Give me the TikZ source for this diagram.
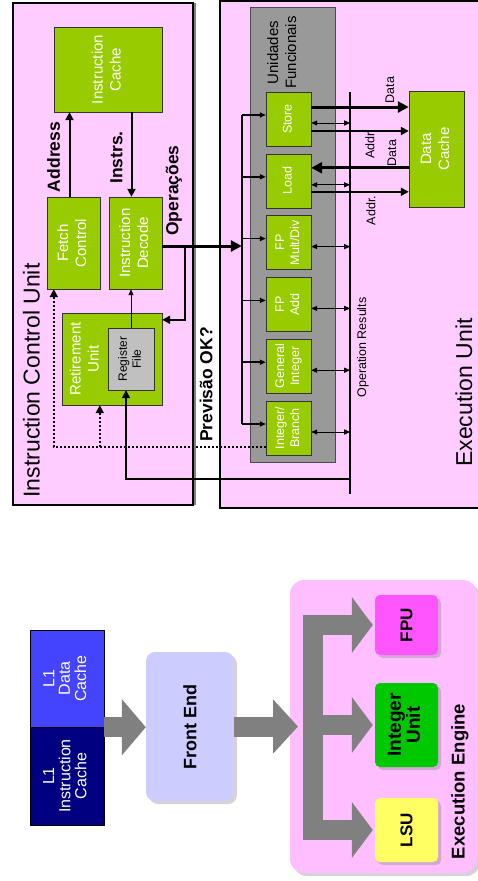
\documentclass[tikz,border=0pt]{standalone}
\usepackage{fontspec}
\setmainfont{Liberation Sans}
\usepackage{graphicx}
\usetikzlibrary{arrows.meta}
\usetikzlibrary{calc}
\usetikzlibrary{shadows}

\definecolor{unitpink}{RGB}{255,204,255}
\definecolor{boxgreen}{RGB}{153,204,0}
\definecolor{fugray}{RGB}{153,153,153}
\definecolor{rfgray}{RGB}{192,192,192}
\definecolor{lonedblue}{RGB}{68,68,255}
\definecolor{loneinavy}{RGB}{0,0,128}
\definecolor{felav}{RGB}{204,204,255}
\definecolor{eepink}{RGB}{255,190,255}
\definecolor{fpumag}{RGB}{255,85,255}
\definecolor{intgreen}{RGB}{0,200,0}
\definecolor{lsuyel}{RGB}{255,255,100}
\definecolor{arrgray}{RGB}{128,128,128}

\newcommand{\rlab}[1]{\rotatebox{90}{\begin{tabular}{@{}c@{}}#1\end{tabular}}}

\begin{document}
\begin{tikzpicture}
[x=1pt,y=-1pt,
 unit/.style={draw,line width=1.5pt,fill=unitpink,inner sep=0pt,
   drop shadow={shadow xshift=3pt,shadow yshift=0pt,fill=gray,opacity=1}},
 gbox/.style={draw=black!80,fill=boxgreen,inner sep=0pt,text=white,font=\fontsize{15}{18}\selectfont},
 fubox/.style={gbox,minimum width=45pt,minimum height=54pt,font=\fontsize{12.5}{15}\selectfont},
 wtext/.style={inner sep=0pt,text=white,font=\fontsize{15}{18}\selectfont},
 lbl/.style={rotate=90,inner sep=0pt,font=\bfseries\fontsize{17.5}{21}\selectfont},
 sm/.style={rotate=90,inner sep=0pt,font=\fontsize{12.5}{15}\selectfont},
 big/.style={rotate=90,inner sep=0pt,font=\fontsize{23}{27}\selectfont},
 arr/.style={line width=2pt,-{Triangle[length=8pt,width=8pt]}},
 thinarr/.style={line width=1pt,-{Triangle[length=6pt,width=5pt]}},
 fatarr/.style={line width=3pt,-{Triangle[length=11pt,width=11pt]}},
 dbl/.style={line width=1pt,{Triangle[length=6pt,width=5pt]}-{Triangle[length=6pt,width=5pt]}},
 dotarr/.style={line width=2pt,dash pattern=on 2pt off 2pt,-{Triangle[length=8pt,width=8pt]}},
 bus/.style={line width=1.5pt},
 lonebox/.style={draw,inner sep=0pt,minimum width=74pt,text=white,font=\fontsize{16}{15}\selectfont},
 softbox/.style={inner sep=0pt,drop shadow={shadow xshift=3pt,shadow yshift=-3pt,opacity=.35}},
 grayarr/.style={line width=20pt,draw=arrgray,-{Triangle[length=24pt,width=55pt]}},
 grayfork/.style={line width=20pt,draw=arrgray,line join=miter,shorten <=2pt,shorten >=2pt,
   {Triangle[length=21pt,width=55pt]}-{Triangle[length=21pt,width=55pt]}},
 bold/.style={inner sep=0pt,font=\bfseries\fontsize{17}{18}\selectfont}]

\useasboundingbox (0,0) rectangle (477,881);

% top: instruction control unit and execution unit
\node[unit,minimum width=180pt,minimum height=502pt] (icu) at (103,254) {};
\node[unit,minimum width=260pt,minimum height=507pt] (eu) at (350,254.5) {};
\node[draw=black!70,fill=fugray,minimum width=85pt,minimum height=455pt] (fu) at (292.5,234.5) {};

\node[big] (icutxt) at (31.5,380.5) {Instruction Control Unit};
\node[big] (eutxt) at (464,392.5) {Execution Unit};
\node[inner sep=0pt,font=\fontsize{15}{18}\selectfont] (futxt) at (283.5,52.5) {\rlab{Unidades\\Funcionais}};

\node[gbox,minimum width=108pt,minimum height=85pt] (ic) at (108,69.5) {\rlab{Instruction\\Cache}};
\node[gbox,minimum width=53pt,minimum height=92pt] (fetch) at (73.5,243) {\rlab{Fetch\\Control}};
\node[gbox,minimum width=53pt,minimum height=92pt] (dec) at (135.5,243) {\rlab{Instruction\\Decode}};
\node[gbox,minimum width=100pt,minimum height=92pt] (ret) at (112,359) {};
\node[wtext] (rettxt) at (86,359) {\rlab{Retirement\\Unit}};
\node[draw=black!80,fill=rfgray,minimum width=46pt,minimum height=62pt,inner sep=0pt,
  font=\fontsize{12}{14}\selectfont] (rf) at (131,359) {\rlab{Register\\File}};
\node[gbox,minimum width=55pt,minimum height=116pt] (dc) at (436.5,149) {\rlab{Data\\Cache}};

\foreach \fu/\txt [count=\i from 0] in {st/Store,ld/Load,fpm/{FP\\Mult/Div},fpa/{FP\\Add},gi/{General\\Integer},ib/{Integer/\\Branch}}
  \node[fubox] (\fu) at (288.5,{119+61.8*\i}) {\rlab{\txt}};

\node[lbl] (addrtxt) at (53.5,157) {Address};
\node[lbl] (instrtxt) at (116.5,157.5) {Instrs.};
\node[lbl] (opstxt) at (174,190.5) {Operações};
\node[lbl] (predtxt) at (206,384.5) {Previsão OK?};
\node[sm] (restxt) at (363,347.5) {Operation Results};
\node[sm] (data1) at (390,90) {Data};
\node[sm] (addr1) at (370,145.5) {Addr};
\node[sm] (data2) at (392,153) {Data};
\node[sm] (addr2) at (371,210.5) {Addr.};

\coordinate (disptop) at ($(st.west)+(-24,-4)$);
\coordinate (dispbot) at ($(ib.west)+(-24,-4)$);
\coordinate (restop) at ($(st.north east)+(39,0)$);
\coordinate (resbot) at ($(ib.south east)+(39,39)$);
\coordinate (opsend) at ($(dec.east)+(0,3)$);
\coordinate (tap) at ($(opsend)+(23,0)$);
\coordinate (retin) at ($(ret.north east)+(0,7)$);
\coordinate (addr) at ($(fetch.north)+(-4,0)$);
\coordinate (instr) at ($(dec.north)+(-4,0)$);
\coordinate (pred) at ($(ib.west)+(0,19)$);

\draw[bus] (disptop) -- (dispbot);
\draw[bus] (restop) -- (resbot);
\foreach \fu in {st,ld,fpm,fpa,gi,ib} {
  \draw[thinarr,line width=1.5pt] ($(disptop |- \fu.west)+(0,-4)$) -- ($(\fu.west)+(0,-4)$);
  \draw[dbl] ($(\fu.east)+(0,4)$) -- ($(\fu.east -| restop)+(0,4)$);
}

\draw[arr] (addr) -- (addr |- ic.south);
\draw[arr] (instr |- ic.south) -- (instr);
\draw[fatarr] (opsend) -- (opsend -| disptop);
\draw[arr] (tap) |- (retin);
\draw[thinarr] (rf.north) -- (rf.north |- dec.south);
\draw[arr,line width=1.5pt] ($(resbot)+(0,-15)$) -| ($(rf.south)+(-5,0)$);
\draw[dotarr] (pred) -| ($(fetch.south west)+(7,0)$);
\draw[dotarr] (pred -| {$(ret.south west)+(38,0)$}) -- ($(ret.south west)+(38,0)$);

\draw[fatarr] ($(st.east)+(0,-12)$) -- ($(st.east -| dc.west)+(0,-12)$);
\draw[arr] ($(st.east)+(0,12)$) -- ($(st.east -| dc.west)+(0,12)$);
\draw[fatarr] ($(ld.east -| dc.west)+(0,-13)$) -- ($(ld.east)+(0,-13)$);
\draw[arr] ($(ld.east)+(0,11)$) -- ($(ld.east -| dc.west)+(0,11)$);

% bottom: caches, front end, execution engine
\node[lonebox,fill=lonedblue,minimum height=97pt] (lone_d) at (67,678.5) {\rlab{L1\\Data\\Cache}};
\node[lonebox,fill=loneinavy,minimum height=98pt] (lone_i) at (67,776) {\rlab{L1\\Instruction\\Cache}};
\node[softbox,fill=felav,rounded corners=9pt,minimum width=88pt,minimum height=149pt,
  font=\bfseries\fontsize{18}{20}\selectfont] (fe) at (190,726.5) {\rotatebox{90}{Front End}};
\node[softbox,fill=eepink,rounded corners=14pt,minimum width=187pt,minimum height=293pt] (ee) at (383.5,726.5) {};
\node[lbl,font=\bfseries\fontsize{18.5}{20}\selectfont] (eetxt) at (460,781.5) {Execution Engine};

\node[softbox,fill=fpumag,rounded corners=5pt,minimum width=63pt,minimum height=60pt] (fpu) at (406.5,625) {};
\node[softbox,fill=intgreen,rounded corners=5pt,minimum width=63pt,minimum height=84pt] (int) at (406.5,725) {};
\node[softbox,fill=lsuyel,rounded corners=5pt,minimum width=63pt,minimum height=64pt] (lsu) at (406.5,830) {};
\node[bold] (fputxt) at (fpu) {\rotatebox{90}{FPU}};
\node[bold,font=\bfseries\fontsize{19}{18}\selectfont] (inttxt) at (int) {\rlab{Integer\\Unit}};
\node[bold] (lsutxt) at (lsu) {\rotatebox{90}{LSU}};

\coordinate (hub) at (313,724);
\coordinate (hubin) at ($(hub)+(-15,0)$);
\draw[grayarr] (lone_d.south east) -- (lone_d.south east -| fe.west);
\draw[grayarr,-{Triangle[length=25pt,width=53pt]}] (fe.east) -- (fe.east -| hubin);
\draw[grayfork] (fpu.west) -- (fpu.west -| hub) -- (lsu.west -| hub) -- (lsu.west);
\draw[grayarr,shorten >=2pt,-{Triangle[length=21pt,width=55pt]}] (int.west -| hub) -- (int.west);
\end{tikzpicture}
\end{document}
